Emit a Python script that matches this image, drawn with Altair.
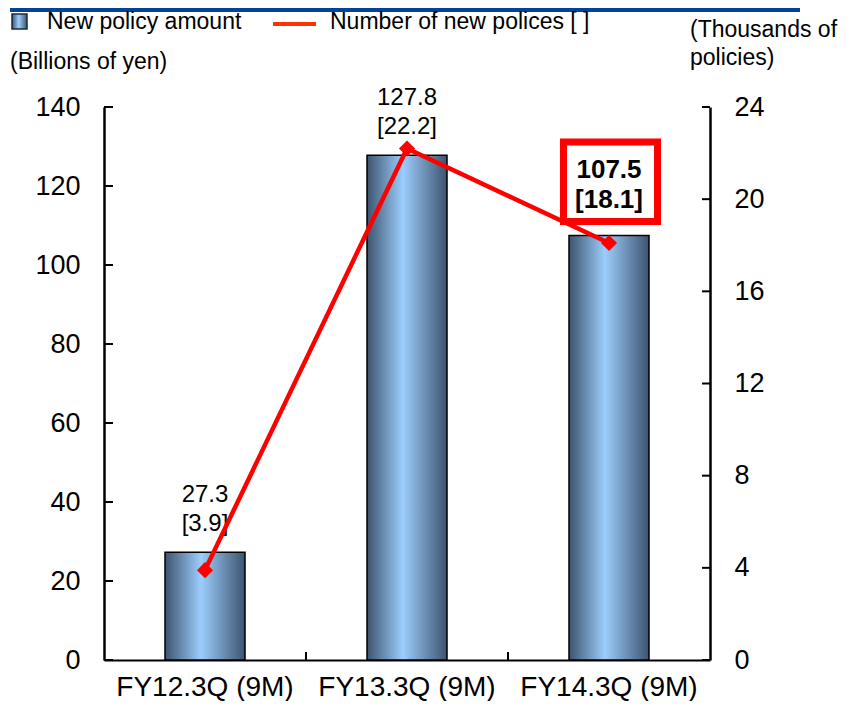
import altair as alt
import pandas as pd

categories = ["FY12.3Q (9M)", "FY13.3Q (9M)", "FY14.3Q (9M)"]
amounts = [27.3, 127.8, 107.5]
policies = [3.9, 22.2, 18.1]
amount_labels = ["27.3", "127.8", "107.5"]
policy_labels = ["[3.9]", "[22.2]", "[18.1]"]
left_ticks = [0, 20, 40, 60, 80, 100, 120, 140]
right_ticks = [0, 4, 8, 12, 16, 20, 24]

FONT = "Liberation Sans"
RED = "#ff0000"

df = pd.DataFrame({
    "cat": categories,
    "amount": amounts,
    "policies": policies,
    "label": [a + "\n" + p for a, p in zip(amount_labels, policy_labels)],
    "highlight": [False, False, True],
})

W, H = 606, 553

x_enc = alt.X(
    "cat:N", sort=categories,
    scale=alt.Scale(paddingInner=0, paddingOuter=0),
    axis=alt.Axis(title=None, labelAngle=0, labelFontSize=28, labelFont=FONT,
                  labelColor="#000000", ticks=False, domainColor="#000000",
                  domainWidth=2, labelPadding=13),
)

left_axis = alt.Axis(values=left_ticks, title=None, ticks=False, grid=False,
                     labelPadding=24, labelFontSize=27, labelFont=FONT,
                     labelColor="#000000", domainColor="#000000", domainWidth=2.5)
right_axis = alt.Axis(orient="right", values=right_ticks, title=None, ticks=False,
                      grid=False, labelPadding=24, labelFontSize=27, labelFont=FONT,
                      labelColor="#000000", domainColor="#000000", domainWidth=2.5)
left_scale = alt.Scale(domain=[0, 140])
right_scale = alt.Scale(domain=[0, 24])

base = alt.Chart(df)

grad = alt.Gradient(
    gradient="linear",
    stops=[alt.GradientStop(color="#3d546f", offset=0),
           alt.GradientStop(color="#9ccdfc", offset=0.45),
           alt.GradientStop(color="#3d546f", offset=1)],
    x1=0, x2=1, y1=0, y2=0,
)

bars = base.mark_bar(size=80, color=grad, stroke="#000000", strokeWidth=1.5).encode(
    x=x_enc,
    y=alt.Y("amount:Q", scale=left_scale, axis=left_axis),
)

lt = alt.Chart(pd.DataFrame({"amount": left_ticks})).mark_rule(color="#000000", strokeWidth=2).encode(
    y=alt.Y("amount:Q", scale=left_scale, axis=left_axis),
    x=alt.value(0), x2=alt.value(9),
)

labels = base.transform_filter("!datum.highlight").mark_text(
    lineBreak="\n", baseline="bottom", dy=-45, fontSize=24, lineHeight=29,
    font=FONT, color="#000000",
).encode(x=alt.X("cat:N", sort=categories),
         y=alt.Y("amount:Q", scale=left_scale, axis=left_axis), text="label:N")

xt = base.transform_filter("datum.cat != '%s'" % categories[0]).mark_rule(
    color="#000000", strokeWidth=2
).encode(x=alt.X("cat:N", sort=categories, bandPosition=0), y=alt.value(H), y2=alt.value(H - 8))

left = alt.layer(bars, lt, labels, xt)

line = base.mark_line(color=RED, strokeWidth=4.5).encode(
    x=alt.X("cat:N", sort=categories),
    y=alt.Y("policies:Q", scale=right_scale, axis=right_axis),
)
pts = base.mark_point(shape="diamond", filled=True, size=260, color=RED, opacity=1).encode(
    x=alt.X("cat:N", sort=categories),
    y=alt.Y("policies:Q", scale=right_scale, axis=right_axis),
)
rt = alt.Chart(pd.DataFrame({"policies": right_ticks})).mark_rule(color="#000000", strokeWidth=2).encode(
    y=alt.Y("policies:Q", scale=right_scale, axis=right_axis),
    x=alt.value(W - 8), x2=alt.value(W),
)
right = alt.layer(line, pts, rt)

dummy = alt.Chart(pd.DataFrame({"a": [0]}))

box = dummy.mark_rect(fill="#ffffff", stroke=RED, strokeWidth=7).encode(
    x=alt.value(459.5), x2=alt.value(553.5), y=alt.value(35), y2=alt.value(114.5)
)

bold = base.transform_filter("datum.highlight").mark_text(
    lineBreak="\n", baseline="bottom", dy=-52, fontSize=26, lineHeight=30,
    font=FONT, fontWeight="bold", color="#000000",
).encode(x=alt.X("cat:N", sort=categories),
         y=alt.Y("amount:Q", scale=left_scale, axis=None),
         text="label:N")

band = dummy.mark_rect(color="#00449a").encode(
    x=alt.value(-94), x2=alt.value(696), y=alt.value(-99), y2=alt.value(-95)
)
icon = dummy.mark_rect(color=grad, stroke="#1a2a3a", strokeWidth=1.5).encode(
    x=alt.value(-92), x2=alt.value(-77), y=alt.value(-93), y2=alt.value(-78)
)
leg_line = dummy.mark_rule(color="#ff3300", strokeWidth=4).encode(
    x=alt.value(169), x2=alt.value(212), y=alt.value(-83)
)

def txt(s, x, y, align="left"):
    return dummy.mark_text(text=s, align=align, baseline="middle", fontSize=23,
                           font=FONT, color="#000000").encode(x=alt.value(x), y=alt.value(y))

texts = [
    txt("New policy amount", -57, -85),
    txt("Number of new polices [ ]", 226, -85),
    txt("(Billions of yen)", -94, -45),
    txt("(Thousands of", 586, -77),
    txt("policies)", 586, -49),
]

chart = alt.layer(left, right, box, bold, band, icon, leg_line, *texts).resolve_scale(
    y="independent"
).properties(
    width=W, height=H,
    padding={"left": 96, "top": 99, "right": 129, "bottom": 41},
    autosize="none",
).configure_view(stroke=None)

chart.save("out.html", embed_options={"renderer": "svg", "actions": False})
